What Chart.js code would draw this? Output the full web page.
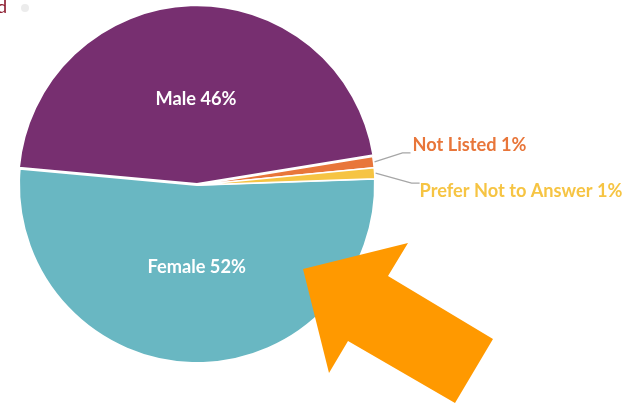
<!DOCTYPE html>
<html>
<head>
<meta charset="utf-8">
<script src="https://cdn.jsdelivr.net/npm/chart.js@4.4.1/dist/chart.umd.min.js"></script>
<style>
  html, body { margin: 0; padding: 0; background: #fff; }
  #wrap { position: relative; width: 629px; height: 406px; }
</style>
</head>
<body>
<div id="wrap"><canvas id="pie" width="629" height="406"></canvas></div>
<script>
const labels = ['Female', 'Male', 'Not Listed', 'Prefer Not to Answer'];
const values = [52, 46, 1, 1];
const colors = ['#69b7c2', '#772f70', '#e8763a', '#f6c443'];

// slice labels: inside for big slices, leader line for small ones
const sliceLabels = {
  id: 'sliceLabels',
  afterDatasetsDraw(chart) {
    const ctx = chart.ctx;
    const arcs = chart.getDatasetMeta(0).data;
    ctx.save();
    ctx.font = 'bold 18.2px Lato, "Open Sans", sans-serif';
    ctx.textBaseline = 'middle';
    arcs.forEach((arc, i) => {
      const txt = labels[i] + ' ' + values[i] + '%';
      const mid = (arc.startAngle + arc.endAngle) / 2;
      if (values[i] > 5) {
        const r = arc.outerRadius * (i === 1 ? 0.48 : 0.46);
        ctx.fillStyle = '#ffffff';
        ctx.textAlign = 'center';
        ctx.fillText(txt, arc.x + 2 + Math.cos(mid) * r, arc.y + Math.sin(mid) * r);
      } else {
        const x0 = arc.x + Math.cos(mid) * (arc.outerRadius + 1);
        const y0 = arc.y + Math.sin(mid) * (arc.outerRadius + 1);
        const up = i === 2;
        const x1 = x0 + (up ? 28 : 36);
        const y1 = y0 + (up ? -9 : 10);
        const x2 = x1 + 8;
        ctx.strokeStyle = '#a6a6a6';
        ctx.lineWidth = 1.3;
        ctx.beginPath();
        ctx.moveTo(x0, y0);
        ctx.lineTo(x1, y1);
        ctx.lineTo(x2, y1);
        ctx.stroke();
        ctx.fillStyle = colors[i];
        ctx.textAlign = 'left';
        ctx.fillText(txt, x2 + (up ? 2 : 0), y1 + (up ? -8 : 8));
      }
    });
    ctx.restore();
  }
};

// orange call-out arrow and the cropped remnant at top left
const decor = {
  id: 'decor',
  afterDraw(chart) {
    const ctx = chart.ctx;
    ctx.save();
    ctx.fillStyle = '#ff9900';
    ctx.beginPath();
    const pts = [[303, 269], [408, 243], [388, 276], [493, 339], [455, 403], [348, 341], [329, 373]];
    ctx.moveTo(pts[0][0], pts[0][1]);
    pts.slice(1).forEach(p => ctx.lineTo(p[0], p[1]));
    ctx.closePath();
    ctx.fill();
    ctx.fillStyle = '#8b1a2e';
    ctx.font = '18px Lato, sans-serif';
    ctx.textBaseline = 'middle';
    ctx.fillText('d', -3, 7);
    ctx.fillStyle = '#ececec';
    ctx.beginPath();
    ctx.arc(25, 8, 4, 0, Math.PI * 2);
    ctx.fill();
    ctx.restore();
  }
};

new Chart(document.getElementById('pie'), {
  type: 'pie',
  data: {
    labels,
    datasets: [{
      data: values,
      backgroundColor: colors,
      borderColor: '#ffffff',
      borderWidth: [2, 2, 1.5, 1.5],
      offset: [0, 4, 0, 0],
    }],
  },
  options: {
    responsive: false,
    animation: false,
    rotation: 88,
    radius: 178,
    layout: { padding: { left: 19, right: 254, top: 7, bottom: 43 } },
    plugins: {
      legend: { display: false },
      tooltip: { enabled: false },
    },
  },
  plugins: [sliceLabels, decor],
});
</script>
</body>
</html>
